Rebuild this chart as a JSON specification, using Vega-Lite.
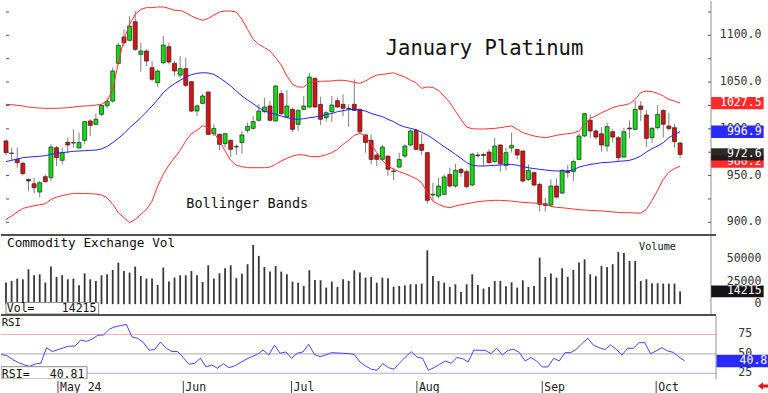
{
"$schema": "https://vega.github.io/schema/vega-lite/v6.json",
"background": "white",
"padding": 0,
"spacing": 2,
"bounds": "flush",
"config": {"view": {"stroke": null}},
"datasets": {"d": [
{"t":0,"o":987.0,"h":989.0,"l":972.0,"c":974.5,"v":24000,"r":49.0,"u":1026.2,"m":964.9,"lo":903.1},
{"t":1,"o":973.6,"h":979.8,"l":966.3,"c":974.0,"v":25900,"r":48.0,"u":1025.8,"m":966.3,"lo":906.7},
{"t":2,"o":967.3,"h":979.8,"l":958.4,"c":963.8,"v":28500,"r":43.0,"u":1025.1,"m":967.7,"lo":911.0},
{"t":3,"o":963.1,"h":964.5,"l":950.6,"c":952.1,"v":27750,"r":39.0,"u":1024.4,"m":969.1,"lo":914.9},
{"t":4,"o":945.9,"h":947.0,"l":933.1,"c":944.2,"v":38900,"r":36.0,"u":1023.3,"m":969.8,"lo":916.3},
{"t":5,"o":941.3,"h":947.8,"l":931.3,"c":937.0,"v":32200,"r":34.0,"u":1022.6,"m":970.2,"lo":917.7},
{"t":6,"o":932.4,"h":944.2,"l":927.0,"c":942.4,"v":33300,"r":37.0,"u":1022.2,"m":970.6,"lo":918.8},
{"t":7,"o":948.8,"h":951.3,"l":942.4,"c":943.5,"v":24000,"r":38.0,"u":1021.9,"m":971.3,"lo":919.9},
{"t":8,"o":947.7,"h":983.4,"l":944.2,"c":980.5,"v":41900,"r":58.0,"u":1021.9,"m":972.7,"lo":924.5},
{"t":9,"o":979.8,"h":981.6,"l":960.2,"c":969.1,"v":30400,"r":53.0,"u":1021.9,"m":973.8,"lo":927.0},
{"t":10,"o":966.3,"h":979.8,"l":962.0,"c":974.5,"v":32200,"r":55.5,"u":1022.2,"m":974.5,"lo":928.5},
{"t":11,"o":985.6,"h":990.5,"l":973.8,"c":982.7,"v":27750,"r":58.0,"u":1022.6,"m":975.2,"lo":929.9},
{"t":12,"o":984.8,"h":999.4,"l":979.8,"c":985.3,"v":28500,"r":60.0,"u":1023.3,"m":975.9,"lo":930.9},
{"t":13,"o":979.5,"h":995.9,"l":978.8,"c":985.3,"v":21000,"r":60.0,"u":1024.0,"m":976.3,"lo":930.9},
{"t":14,"o":987.7,"h":1008.4,"l":983.4,"c":1007.7,"v":34400,"r":68.0,"u":1024.4,"m":976.6,"lo":930.9},
{"t":15,"o":1008.4,"h":1010.2,"l":992.3,"c":1003.7,"v":27750,"r":66.0,"u":1024.7,"m":977.0,"lo":930.6},
{"t":16,"o":1004.8,"h":1016.6,"l":1004.1,"c":1010.2,"v":25900,"r":69.0,"u":1025.4,"m":977.3,"lo":930.2},
{"t":17,"o":1015.5,"h":1026.2,"l":1013.7,"c":1025.1,"v":32200,"r":74.0,"u":1026.2,"m":978.4,"lo":929.2},
{"t":18,"o":1024.7,"h":1033.3,"l":1021.9,"c":1029.4,"v":33300,"r":74.4,"u":1029.7,"m":981.2,"lo":926.3},
{"t":19,"o":1029.7,"h":1065.4,"l":1028.0,"c":1061.8,"v":38200,"r":81.7,"u":1042.2,"m":985.2,"lo":919.2},
{"t":20,"o":1070.0,"h":1092.1,"l":1069.0,"c":1089.3,"v":46350,"r":85.0,"u":1070.7,"m":989.8,"lo":910.3},
{"t":21,"o":1098.2,"h":1106.4,"l":1088.6,"c":1092.1,"v":37050,"r":86.4,"u":1095.7,"m":994.8,"lo":905.0},
{"t":22,"o":1094.6,"h":1120.6,"l":1094.0,"c":1109.9,"v":35200,"r":88.0,"u":1111.7,"m":1001.2,"lo":899.6},
{"t":23,"o":1114.6,"h":1126.0,"l":1083.2,"c":1085.0,"v":41900,"r":71.8,"u":1122.4,"m":1006.4,"lo":903.1},
{"t":24,"o":1079.6,"h":1092.1,"l":1061.1,"c":1083.2,"v":31500,"r":70.0,"u":1127.7,"m":1011.9,"lo":908.5},
{"t":25,"o":1083.2,"h":1085.0,"l":1067.2,"c":1072.5,"v":28500,"r":64.5,"u":1129.6,"m":1018.0,"lo":913.8},
{"t":26,"o":1065.4,"h":1072.5,"l":1051.1,"c":1052.9,"v":28500,"r":54.6,"u":1129.6,"m":1024.4,"lo":922.7},
{"t":27,"o":1049.3,"h":1063.6,"l":1044.7,"c":1061.8,"v":21400,"r":56.0,"u":1130.3,"m":1031.2,"lo":938.8},
{"t":28,"o":1070.7,"h":1099.3,"l":1069.0,"c":1089.6,"v":40800,"r":65.3,"u":1130.3,"m":1038.7,"lo":951.3},
{"t":29,"o":1087.8,"h":1092.1,"l":1069.0,"c":1071.4,"v":25150,"r":57.2,"u":1128.8,"m":1044.0,"lo":961.3},
{"t":30,"o":1070.0,"h":1072.5,"l":1056.5,"c":1061.8,"v":29600,"r":53.0,"u":1126.7,"m":1048.3,"lo":969.1},
{"t":31,"o":1057.5,"h":1077.9,"l":1054.7,"c":1064.3,"v":32200,"r":53.0,"u":1126.7,"m":1051.9,"lo":977.0},
{"t":32,"o":1064.3,"h":1076.1,"l":1044.7,"c":1046.5,"v":32200,"r":45.2,"u":1124.2,"m":1055.4,"lo":987.0},
{"t":33,"o":1050.4,"h":1051.0,"l":1018.0,"c":1019.0,"v":37050,"r":36.6,"u":1120.6,"m":1057.9,"lo":994.8},
{"t":34,"o":1019.0,"h":1026.2,"l":1013.7,"c":1024.4,"v":32200,"r":37.9,"u":1118.1,"m":1059.3,"lo":998.4},
{"t":35,"o":1027.2,"h":1037.6,"l":1026.2,"c":1035.1,"v":24800,"r":44.3,"u":1116.0,"m":1060.0,"lo":1003.4},
{"t":36,"o":1039.4,"h":1039.7,"l":993.3,"c":994.0,"v":43400,"r":33.2,"u":1118.1,"m":1059.7,"lo":1001.2},
{"t":37,"o":994.7,"h":1004.8,"l":992.3,"c":1000.5,"v":28500,"r":35.7,"u":1121.7,"m":1058.2,"lo":995.9},
{"t":38,"o":994.0,"h":995.0,"l":977.0,"c":983.4,"v":34400,"r":31.4,"u":1124.9,"m":1054.7,"lo":987.0},
{"t":39,"o":984.1,"h":995.9,"l":979.8,"c":994.7,"v":40000,"r":37.4,"u":1126.0,"m":1050.4,"lo":976.3},
{"t":40,"o":987.7,"h":988.4,"l":969.8,"c":978.0,"v":43400,"r":32.3,"u":1126.0,"m":1045.8,"lo":966.3},
{"t":41,"o":980.5,"h":983.4,"l":972.0,"c":981.2,"v":29000,"r":34.4,"u":1124.9,"m":1040.4,"lo":960.9},
{"t":42,"o":985.3,"h":997.7,"l":973.4,"c":993.4,"v":34000,"r":38.7,"u":1117.0,"m":1035.1,"lo":959.5},
{"t":43,"o":998.4,"h":1006.6,"l":995.9,"c":1002.6,"v":44500,"r":43.0,"u":1106.4,"m":1030.8,"lo":958.4},
{"t":44,"o":1000.5,"h":1013.7,"l":999.0,"c":1007.7,"v":66000,"r":46.4,"u":1095.7,"m":1026.9,"lo":958.4},
{"t":45,"o":1009.1,"h":1026.2,"l":1007.7,"c":1019.0,"v":53800,"r":49.4,"u":1090.3,"m":1022.6,"lo":958.4},
{"t":46,"o":1018.3,"h":1033.3,"l":1017.0,"c":1023.3,"v":41500,"r":55.0,"u":1086.8,"m":1019.0,"lo":958.4},
{"t":47,"o":1024.4,"h":1029.7,"l":1007.7,"c":1009.1,"v":36300,"r":48.6,"u":1083.2,"m":1017.2,"lo":959.1},
{"t":48,"o":1008.4,"h":1046.5,"l":1007.7,"c":1045.8,"v":42600,"r":61.1,"u":1076.1,"m":1015.5,"lo":962.0},
{"t":49,"o":1037.6,"h":1041.2,"l":1014.7,"c":1016.2,"v":36300,"r":50.8,"u":1068.2,"m":1013.7,"lo":965.6},
{"t":50,"o":1012.6,"h":1041.2,"l":1011.9,"c":1024.4,"v":33300,"r":52.5,"u":1056.5,"m":1011.9,"lo":968.4},
{"t":51,"o":1020.8,"h":1022.6,"l":996.9,"c":999.4,"v":25150,"r":44.3,"u":1047.6,"m":1010.5,"lo":970.9},
{"t":52,"o":1004.8,"h":1020.8,"l":997.7,"c":1019.7,"v":24000,"r":50.8,"u":1044.7,"m":1010.2,"lo":972.3},
{"t":53,"o":1020.8,"h":1035.1,"l":1020.0,"c":1024.4,"v":20300,"r":52.5,"u":1044.7,"m":1010.8,"lo":972.0},
{"t":54,"o":1023.3,"h":1060.0,"l":1022.6,"c":1055.4,"v":37800,"r":62.4,"u":1049.3,"m":1011.9,"lo":970.6},
{"t":55,"o":1054.0,"h":1054.7,"l":1022.6,"c":1023.3,"v":27000,"r":49.4,"u":1050.4,"m":1012.6,"lo":970.2},
{"t":56,"o":1026.2,"h":1034.4,"l":1004.1,"c":1010.2,"v":26600,"r":46.4,"u":1050.8,"m":1013.7,"lo":970.6},
{"t":57,"o":1011.9,"h":1019.0,"l":1007.7,"c":1017.2,"v":18450,"r":48.6,"u":1051.1,"m":1015.1,"lo":972.3},
{"t":58,"o":1018.3,"h":1035.1,"l":1007.7,"c":1025.4,"v":25150,"r":51.6,"u":1051.1,"m":1016.5,"lo":974.5},
{"t":59,"o":1030.1,"h":1033.3,"l":1022.6,"c":1023.3,"v":19200,"r":51.2,"u":1051.9,"m":1018.3,"lo":978.0},
{"t":60,"o":1026.2,"h":1036.9,"l":1013.7,"c":1021.9,"v":27750,"r":50.8,"u":1051.9,"m":1019.4,"lo":983.4},
{"t":61,"o":1022.0,"h":1026.2,"l":1001.9,"c":1021.7,"v":25900,"r":50.3,"u":1051.1,"m":1020.5,"lo":987.7},
{"t":62,"o":1026.2,"h":1052.9,"l":1019.0,"c":1019.7,"v":37800,"r":49.4,"u":1049.7,"m":1020.8,"lo":993.0},
{"t":63,"o":1020.8,"h":1021.9,"l":994.0,"c":996.9,"v":35200,"r":39.6,"u":1048.6,"m":1020.1,"lo":995.2},
{"t":64,"o":993.4,"h":994.7,"l":974.5,"c":985.3,"v":29600,"r":34.4,"u":1051.1,"m":1019.0,"lo":992.3},
{"t":65,"o":987.7,"h":994.0,"l":962.0,"c":967.3,"v":30350,"r":30.2,"u":1054.7,"m":1016.5,"lo":983.4},
{"t":66,"o":972.0,"h":973.4,"l":960.2,"c":967.3,"v":24000,"r":28.9,"u":1057.5,"m":1014.7,"lo":974.5},
{"t":67,"o":967.3,"h":982.7,"l":965.6,"c":980.5,"v":29600,"r":37.4,"u":1058.2,"m":1013.0,"lo":966.3},
{"t":68,"o":970.9,"h":971.0,"l":949.5,"c":956.7,"v":28800,"r":32.3,"u":1059.0,"m":1010.1,"lo":960.2},
{"t":69,"o":954.2,"h":958.4,"l":944.9,"c":954.9,"v":19550,"r":30.2,"u":1060.0,"m":1007.7,"lo":956.7},
{"t":70,"o":959.1,"h":974.5,"l":958.4,"c":967.3,"v":20300,"r":38.7,"u":1057.5,"m":1004.1,"lo":954.2},
{"t":71,"o":970.9,"h":983.4,"l":969.1,"c":981.6,"v":21050,"r":46.0,"u":1055.4,"m":1002.0,"lo":952.1},
{"t":72,"o":982.7,"h":999.4,"l":981.6,"c":997.7,"v":22150,"r":52.9,"u":1051.9,"m":1000.5,"lo":949.5},
{"t":73,"o":998.4,"h":999.4,"l":977.0,"c":978.0,"v":22150,"r":46.0,"u":1049.3,"m":999.1,"lo":946.7},
{"t":74,"o":983.4,"h":994.7,"l":972.0,"c":977.0,"v":22900,"r":44.3,"u":1043.3,"m":996.3,"lo":942.4},
{"t":75,"o":974.5,"h":975.6,"l":920.0,"c":923.5,"v":60100,"r":28.9,"u":1044.7,"m":993.4,"lo":931.7},
{"t":76,"o":929.2,"h":942.4,"l":923.5,"c":929.9,"v":31450,"r":32.3,"u":1044.3,"m":989.5,"lo":922.7},
{"t":77,"o":928.1,"h":947.7,"l":925.6,"c":938.8,"v":25900,"r":36.6,"u":1041.1,"m":985.2,"lo":919.2},
{"t":78,"o":929.9,"h":951.3,"l":928.8,"c":948.5,"v":24000,"r":40.9,"u":1035.1,"m":980.9,"lo":916.7},
{"t":79,"o":951.3,"h":958.4,"l":937.0,"c":938.8,"v":19200,"r":37.9,"u":1028.0,"m":977.0,"lo":915.6},
{"t":80,"o":938.8,"h":962.7,"l":937.0,"c":955.6,"v":22150,"r":45.2,"u":1019.0,"m":972.7,"lo":917.4},
{"t":81,"o":956.7,"h":958.4,"l":948.5,"c":953.1,"v":13600,"r":44.0,"u":1010.1,"m":968.5,"lo":918.8},
{"t":82,"o":954.2,"h":956.7,"l":936.3,"c":938.1,"v":22150,"r":39.6,"u":1001.9,"m":963.8,"lo":919.9},
{"t":83,"o":939.9,"h":974.5,"l":938.8,"c":972.7,"v":33300,"r":55.0,"u":1000.1,"m":961.0,"lo":921.0},
{"t":84,"o":972.0,"h":975.0,"l":969.0,"c":971.3,"v":21400,"r":54.6,"u":999.8,"m":960.2,"lo":922.0},
{"t":85,"o":972.5,"h":974.5,"l":960.2,"c":971.5,"v":17350,"r":54.6,"u":999.8,"m":960.2,"lo":922.7},
{"t":86,"o":975.2,"h":978.0,"l":962.7,"c":963.8,"v":19200,"r":50.3,"u":1000.1,"m":960.6,"lo":923.1},
{"t":87,"o":964.9,"h":990.5,"l":963.8,"c":981.6,"v":25900,"r":57.2,"u":1000.5,"m":960.9,"lo":923.5},
{"t":88,"o":982.7,"h":983.4,"l":954.2,"c":962.7,"v":25900,"r":48.6,"u":1001.2,"m":961.3,"lo":923.5},
{"t":89,"o":960.9,"h":979.8,"l":955.6,"c":974.5,"v":19950,"r":54.6,"u":1002.3,"m":961.7,"lo":923.1},
{"t":90,"o":979.5,"h":995.9,"l":974.5,"c":982.3,"v":24400,"r":55.9,"u":1003.0,"m":962.0,"lo":922.7},
{"t":91,"o":978.0,"h":978.5,"l":967.3,"c":972.0,"v":18450,"r":51.6,"u":999.4,"m":961.0,"lo":922.0},
{"t":92,"o":976.3,"h":976.5,"l":942.4,"c":944.2,"v":26600,"r":40.9,"u":995.9,"m":959.5,"lo":921.3},
{"t":93,"o":945.9,"h":962.0,"l":944.2,"c":955.6,"v":19200,"r":45.2,"u":994.1,"m":958.4,"lo":921.0},
{"t":94,"o":953.1,"h":954.2,"l":938.1,"c":939.9,"v":20300,"r":40.9,"u":992.3,"m":957.4,"lo":920.6},
{"t":95,"o":940.6,"h":942.4,"l":911.4,"c":919.2,"v":51900,"r":33.2,"u":991.2,"m":956.7,"lo":920.2},
{"t":96,"o":919.9,"h":926.3,"l":911.4,"c":918.1,"v":30350,"r":33.2,"u":990.5,"m":956.0,"lo":919.2},
{"t":97,"o":918.5,"h":945.9,"l":917.4,"c":938.8,"v":34100,"r":44.3,"u":991.6,"m":955.2,"lo":917.0},
{"t":98,"o":938.8,"h":947.0,"l":925.6,"c":927.0,"v":29600,"r":40.9,"u":993.0,"m":954.9,"lo":916.0},
{"t":99,"o":931.3,"h":956.7,"l":930.2,"c":955.6,"v":40000,"r":51.6,"u":994.1,"m":954.9,"lo":915.6},
{"t":100,"o":954.9,"h":961.3,"l":947.7,"c":953.1,"v":30350,"r":51.6,"u":994.8,"m":954.9,"lo":914.9},
{"t":101,"o":954.2,"h":967.3,"l":944.2,"c":964.9,"v":38150,"r":55.9,"u":995.5,"m":956.0,"lo":914.2},
{"t":102,"o":967.3,"h":994.7,"l":966.3,"c":992.3,"v":46350,"r":63.6,"u":997.7,"m":959.1,"lo":913.5},
{"t":103,"o":992.3,"h":1017.2,"l":991.2,"c":1016.2,"v":50050,"r":70.1,"u":1004.8,"m":960.6,"lo":913.1},
{"t":104,"o":1009.1,"h":1015.5,"l":990.5,"c":997.7,"v":33300,"r":61.1,"u":1011.2,"m":962.0,"lo":912.8},
{"t":105,"o":997.7,"h":999.4,"l":988.8,"c":991.2,"v":31100,"r":58.0,"u":1013.7,"m":962.7,"lo":912.4},
{"t":106,"o":994.7,"h":1001.9,"l":975.6,"c":982.7,"v":42600,"r":55.5,"u":1017.2,"m":963.8,"lo":912.1},
{"t":107,"o":981.6,"h":1006.6,"l":975.6,"c":1002.3,"v":41500,"r":61.5,"u":1019.7,"m":964.1,"lo":911.7},
{"t":108,"o":996.9,"h":999.4,"l":985.3,"c":991.2,"v":44500,"r":55.9,"u":1022.6,"m":964.5,"lo":911.0},
{"t":109,"o":990.5,"h":992.3,"l":965.6,"c":969.1,"v":58250,"r":48.6,"u":1024.4,"m":965.2,"lo":910.6},
{"t":110,"o":969.8,"h":1001.2,"l":969.1,"c":996.9,"v":57150,"r":57.2,"u":1025.4,"m":965.6,"lo":910.3},
{"t":111,"o":1000.8,"h":1009.1,"l":989.8,"c":999.8,"v":48200,"r":57.2,"u":1026.9,"m":966.3,"lo":910.3},
{"t":112,"o":999.4,"h":1029.7,"l":998.4,"c":1020.8,"v":48200,"r":64.5,"u":1031.5,"m":968.1,"lo":909.9},
{"t":113,"o":1024.4,"h":1029.7,"l":1008.4,"c":1020.8,"v":25900,"r":64.5,"u":1038.7,"m":970.9,"lo":909.9},
{"t":114,"o":1014.8,"h":1019.7,"l":980.5,"c":989.8,"v":27750,"r":50.3,"u":1040.4,"m":975.2,"lo":913.8},
{"t":115,"o":990.5,"h":1001.9,"l":985.3,"c":1000.5,"v":23300,"r":53.8,"u":1039.7,"m":978.8,"lo":923.5},
{"t":116,"o":1001.2,"h":1025.5,"l":999.4,"c":1015.5,"v":23300,"r":58.0,"u":1037.9,"m":981.6,"lo":934.2},
{"t":117,"o":1019.7,"h":1020.8,"l":990.5,"c":1004.8,"v":22900,"r":53.8,"u":1035.1,"m":985.2,"lo":946.0},
{"t":118,"o":1003.0,"h":1017.2,"l":998.4,"c":1000.2,"v":22900,"r":52.0,"u":1031.5,"m":990.5,"lo":953.5},
{"t":119,"o":1001.2,"h":1005.5,"l":980.0,"c":986.2,"v":22900,"r":46.0,"u":1029.7,"m":994.1,"lo":957.5},
{"t":120,"o":984.8,"h":986.2,"l":968.4,"c":972.6,"v":14215,"r":40.81,"u":1027.5,"m":996.9,"lo":960.2}
],
"pticks": [{"v":900},{"v":925},{"v":950},{"v":975},{"v":1000},{"v":1025},{"v":1050},{"v":1075},{"v":1100},{"v":1125}],
"plabels": [{"v":900,"lab":"900.0"},{"v":950,"lab":"950.0"},{"v":1000,"lab":"1000.0"},{"v":1050,"lab":"1050.0"},{"v":1100,"lab":"1100.0"}],
"vlabels": [{"v":0,"lab":"0"},{"v":25000,"lab":"25000"},{"v":50000,"lab":"50000"}],
"rlabels": [{"v":25,"lab":"25"},{"v":50,"lab":"50"},{"v":75,"lab":"75"}],
"months": [{"t":10,"lab":"May 24"},{"t":32,"lab":"Jun"},{"t":51,"lab":"Jul"},{"t":73,"lab":"Aug"},{"t":95,"lab":"Sep"},{"t":115,"lab":"Oct"}]
},
"vconcat": [
{
"width": 715, "height": 233,
"layer": [
{"data": {"name": "d"}, "mark": {"type": "rule", "color": "#808080", "strokeWidth": 1, "clip": true},
 "encoding": {
  "x": {"field": "t", "type": "quantitative", "scale": {"domain": [0, 125.5], "nice": false, "zero": false}, "axis": null},
  "y": {"field": "l", "type": "quantitative", "scale": {"domain": [887.5, 1136.7], "nice": false, "zero": false}, "axis": null},
  "y2": {"field": "h"}}},
{"data": {"name": "d"}, "mark": {"type": "bar", "size": 4, "stroke": "#222", "strokeWidth": 0.7, "clip": true},
 "encoding": {
  "x": {"field": "t", "type": "quantitative", "axis": null},
  "y": {"field": "o", "type": "quantitative", "axis": null},
  "y2": {"field": "c"},
  "fill": {"condition": {"test": "datum.c >= datum.o", "value": "#11dd11"}, "value": "#dd1111"}}},
{"data": {"name": "d"}, "mark": {"type": "line", "color": "#ff3030", "strokeWidth": 1, "clip": true},
 "encoding": {"x": {"field": "t", "type": "quantitative", "axis": null}, "y": {"field": "u", "type": "quantitative", "axis": null}}},
{"data": {"name": "d"}, "mark": {"type": "line", "color": "#2222ff", "strokeWidth": 1, "clip": true},
 "encoding": {"x": {"field": "t", "type": "quantitative", "axis": null}, "y": {"field": "m", "type": "quantitative", "axis": null}}},
{"data": {"name": "d"}, "mark": {"type": "line", "color": "#ff3030", "strokeWidth": 1, "clip": true},
 "encoding": {"x": {"field": "t", "type": "quantitative", "axis": null}, "y": {"field": "lo", "type": "quantitative", "axis": null}}},
{"data": {"values": [{}]}, "mark": {"type": "rule", "color": "#909090", "strokeWidth": 1},
 "encoding": {"x": {"datum": 125.5, "type": "quantitative", "axis": null}}},
{"data": {"values": [{}]}, "mark": {"type": "rule", "color": "#505050", "strokeWidth": 2},
 "encoding": {"y": {"datum": 886.4, "type": "quantitative", "axis": null}}},
{"data": {"name": "pticks"}, "mark": {"type": "tick", "orient": "horizontal", "size": 3, "thickness": 1, "color": "#555", "opacity": 1},
 "encoding": {"x": {"datum": 125.24, "type": "quantitative", "axis": null}, "y": {"field": "v", "type": "quantitative", "axis": null}}},
{"data": {"name": "pticks"}, "mark": {"type": "tick", "orient": "horizontal", "size": 3, "thickness": 1, "color": "#555", "opacity": 1},
 "encoding": {"x": {"datum": 0.27, "type": "quantitative", "axis": null}, "y": {"field": "v", "type": "quantitative", "axis": null}}},
{"data": {"name": "plabels"}, "mark": {"type": "text", "align": "right", "baseline": "middle", "color": "#333", "font": "DejaVu Sans Mono", "fontSize": 11.5},
 "encoding": {"x": {"datum": 134.46, "type": "quantitative", "axis": null}, "y": {"field": "v", "type": "quantitative", "axis": null}, "text": {"field": "lab"}}},
{"data": {"values": [{}]}, "mark": {"type": "text", "text": "January Platinum", "font": "DejaVu Sans Mono", "fontSize": 20.5, "align": "left", "baseline": "alphabetic", "color": "#111"},
 "encoding": {"x": {"datum": 67.6, "type": "quantitative", "axis": null}, "y": {"datum": 1078.9, "type": "quantitative", "axis": null}}},
{"data": {"values": [{}]}, "mark": {"type": "text", "text": "Bollinger Bands", "font": "DejaVu Sans Mono", "fontSize": 13.5, "align": "left", "baseline": "alphabetic", "color": "#111"},
 "encoding": {"x": {"datum": 32.1, "type": "quantitative", "axis": null}, "y": {"datum": 915.6, "type": "quantitative", "axis": null}}},
{"data": {"values": [{"lab": "960.2", "v": 960.2}]},
 "mark": {"type": "point", "shape": "M-1,-0.406L1,-0.406L1,0.064L-1,0.064Z", "size": 2756, "filled": true, "opacity": 1, "strokeWidth": 0, "fill": "#ff2a2a"},
 "encoding": {"x": {"datum": 130.2, "type": "quantitative", "axis": null}, "y": {"field": "v", "type": "quantitative", "axis": null}}},
{"data": {"values": [{"lab": "960.2", "v": 960.2}]},
 "mark": {"type": "text", "align": "right", "baseline": "middle", "dy": -4.5, "color": "white", "font": "DejaVu Sans Mono", "fontSize": 11.5},
 "encoding": {"x": {"datum": 134.5, "type": "quantitative", "axis": null}, "y": {"field": "v", "type": "quantitative", "axis": null}, "text": {"field": "lab"}}},
{"data": {"values": [{"k": "upper", "lab": "1027.5", "v": 1027.5}, {"k": "middle", "lab": "996.9", "v": 996.9}, {"k": "close", "lab": "972.6", "v": 972.6}]},
 "mark": {"type": "point", "shape": "M-1,-0.235L1,-0.235L1,0.235L-1,0.235Z", "size": 2756, "filled": true, "opacity": 1, "strokeWidth": 0},
 "encoding": {"x": {"datum": 130.2, "type": "quantitative", "axis": null}, "y": {"field": "v", "type": "quantitative", "axis": null},
  "fill": {"field": "k", "type": "nominal", "scale": {"domain": ["upper", "middle", "close"], "range": ["#ff2a2a", "#2a2aff", "#141414"]}, "legend": null},
  "fillOpacity": {"condition": {"test": "datum.k == 'close'", "value": 0.9}, "value": 1}}},
{"data": {"values": [{"k": "upper", "lab": "1027.5", "v": 1027.5}, {"k": "middle", "lab": "996.9", "v": 996.9}, {"k": "close", "lab": "972.6", "v": 972.6}]},
 "mark": {"type": "text", "align": "right", "baseline": "middle", "color": "white", "font": "DejaVu Sans Mono", "fontSize": 11.5},
 "encoding": {"x": {"datum": 134.5, "type": "quantitative", "axis": null}, "y": {"field": "v", "type": "quantitative", "axis": null}, "text": {"field": "lab"}}}
]
},
{
"width": 715, "height": 78,
"layer": [
{"data": {"name": "d"}, "mark": {"type": "bar", "size": 1.8, "color": "#383838", "clip": true},
 "encoding": {
  "x": {"field": "t", "type": "quantitative", "scale": {"domain": [0, 125.5], "nice": false, "zero": false}, "axis": null},
  "y": {"field": "v", "type": "quantitative", "scale": {"domain": [-11000, 76000], "nice": false, "zero": false}, "axis": null},
  "y2": {"datum": 0}}},
{"data": {"values": [{}]}, "mark": {"type": "rule", "color": "#909090", "strokeWidth": 1},
 "encoding": {"x": {"datum": 125.5, "type": "quantitative", "axis": null}}},
{"data": {"values": [{}]}, "mark": {"type": "rule", "color": "#505050", "strokeWidth": 2},
 "encoding": {"y": {"datum": -12115, "type": "quantitative", "axis": null}}},
{"data": {"name": "vlabels"}, "mark": {"type": "text", "align": "right", "baseline": "middle", "color": "#333", "font": "DejaVu Sans Mono", "fontSize": 11.5},
 "encoding": {"x": {"datum": 134.46, "type": "quantitative", "axis": null}, "y": {"field": "v", "type": "quantitative", "axis": null}, "text": {"field": "lab"}}},
{"data": {"values": [{}]}, "mark": {"type": "text", "text": "Commodity Exchange Vol", "font": "DejaVu Sans Mono", "fontSize": 12.7, "align": "left", "baseline": "alphabetic", "color": "#111"},
 "encoding": {"x": {"datum": 0.18, "type": "quantitative", "axis": null}, "y": {"datum": 63800, "type": "quantitative", "axis": null}}},
{"data": {"values": [{}]}, "mark": {"type": "rect", "fill": "white", "stroke": "#888", "strokeWidth": 1, "clip": true},
 "encoding": {"x": {"datum": 0, "type": "quantitative", "axis": null}, "x2": {"datum": 16.5}, "y": {"datum": -11000, "type": "quantitative", "axis": null}, "y2": {"datum": 1900}}},
{"data": {"values": [{}]}, "mark": {"type": "text", "text": "Vol=", "font": "DejaVu Sans Mono", "fontSize": 11.5, "align": "left", "baseline": "alphabetic", "color": "#111"},
 "encoding": {"x": {"datum": 0.15, "type": "quantitative", "axis": null}, "y": {"datum": -8700, "type": "quantitative", "axis": null}}},
{"data": {"values": [{}]}, "mark": {"type": "text", "text": "14215", "font": "DejaVu Sans Mono", "fontSize": 11.5, "align": "right", "baseline": "alphabetic", "color": "#111"},
 "encoding": {"x": {"datum": 16.1, "type": "quantitative", "axis": null}, "y": {"datum": -8700, "type": "quantitative", "axis": null}}},
{"data": {"values": [{}]}, "mark": {"type": "text", "text": "Volume", "font": "DejaVu Sans Mono", "fontSize": 10.2, "align": "left", "baseline": "alphabetic", "color": "#111"},
 "encoding": {"x": {"datum": 112.7, "type": "quantitative", "axis": null}, "y": {"datum": 60150, "type": "quantitative", "axis": null}}},
{"data": {"values": [{"lab": "14215", "v": 14215}]},
 "mark": {"type": "point", "shape": "M-1,-0.22L1,-0.22L1,0.22L-1,0.22Z", "size": 2756, "filled": true, "opacity": 1, "strokeWidth": 0, "fill": "#141414"},
 "encoding": {"x": {"datum": 130.2, "type": "quantitative", "axis": null}, "y": {"field": "v", "type": "quantitative", "axis": null}}},
{"data": {"values": [{"lab": "14215", "v": 14215}]},
 "mark": {"type": "text", "align": "right", "baseline": "middle", "color": "white", "font": "DejaVu Sans Mono", "fontSize": 11.5},
 "encoding": {"x": {"datum": 134.5, "type": "quantitative", "axis": null}, "y": {"field": "v", "type": "quantitative", "axis": null}, "text": {"field": "lab"}}}
]
},
{
"width": 715, "height": 63,
"layer": [
{"data": {"values": [{}]}, "mark": {"type": "rule", "color": "#ffaaaa", "strokeWidth": 1},
 "encoding": {"y": {"datum": 75, "type": "quantitative", "scale": {"domain": [17.65, 98.8], "nice": false, "zero": false}, "axis": null}}},
{"data": {"values": [{}]}, "mark": {"type": "rule", "color": "#a8a8a8", "strokeWidth": 1},
 "encoding": {"y": {"datum": 50, "type": "quantitative", "axis": null}}},
{"data": {"values": [{}]}, "mark": {"type": "rule", "color": "#aaaaff", "strokeWidth": 1},
 "encoding": {"y": {"datum": 25, "type": "quantitative", "axis": null}}},
{"data": {"name": "d"}, "mark": {"type": "line", "color": "#4444ff", "strokeWidth": 1, "clip": true},
 "encoding": {
  "x": {"field": "t", "type": "quantitative", "scale": {"domain": [0, 125.5], "nice": false, "zero": false}, "axis": null},
  "y": {"field": "r", "type": "quantitative", "axis": null}}},
{"data": {"values": [{}]}, "mark": {"type": "rule", "color": "#909090", "strokeWidth": 1},
 "encoding": {"x": {"datum": 125.5, "type": "quantitative", "axis": null}}},
{"data": {"name": "rlabels"}, "mark": {"type": "text", "align": "right", "baseline": "middle", "color": "#333", "font": "DejaVu Sans Mono", "fontSize": 11.5},
 "encoding": {"x": {"datum": 131.83, "type": "quantitative", "axis": null}, "y": {"field": "v", "type": "quantitative", "axis": null}, "text": {"field": "lab"}}},
{"data": {"name": "months"}, "mark": {"type": "rule", "color": "#444", "strokeWidth": 1},
 "encoding": {"x": {"field": "t", "type": "quantitative", "axis": null}, "y": {"datum": 15.1, "type": "quantitative", "axis": null}, "y2": {"datum": -1.6}}},
{"data": {"name": "months"}, "mark": {"type": "text", "align": "left", "baseline": "alphabetic", "dx": 2, "color": "#222", "font": "DejaVu Sans Mono", "fontSize": 11.5},
 "encoding": {"x": {"field": "t", "type": "quantitative", "axis": null}, "y": {"datum": 2.5, "type": "quantitative", "axis": null}, "text": {"field": "lab"}}},
{"data": {"values": [{}]}, "mark": {"type": "rect", "fill": "white", "stroke": "#888", "strokeWidth": 1, "clip": true},
 "encoding": {"x": {"datum": 0, "type": "quantitative", "axis": null}, "x2": {"datum": 15.1}, "y": {"datum": 17.65, "type": "quantitative", "axis": null}, "y2": {"datum": 33.5}}},
{"data": {"values": [{}]}, "mark": {"type": "text", "text": "RSI=", "font": "DejaVu Sans Mono", "fontSize": 11.5, "align": "left", "baseline": "alphabetic", "color": "#111"},
 "encoding": {"x": {"datum": 0.15, "type": "quantitative", "axis": null}, "y": {"datum": 19.3, "type": "quantitative", "axis": null}}},
{"data": {"values": [{}]}, "mark": {"type": "text", "text": "40.81", "font": "DejaVu Sans Mono", "fontSize": 11.5, "align": "right", "baseline": "alphabetic", "color": "#111"},
 "encoding": {"x": {"datum": 14.63, "type": "quantitative", "axis": null}, "y": {"datum": 19.3, "type": "quantitative", "axis": null}}},
{"data": {"values": [{}]}, "mark": {"type": "text", "text": "RSI", "font": "DejaVu Sans Mono", "fontSize": 10.7, "align": "left", "baseline": "alphabetic", "color": "#111"},
 "encoding": {"x": {"datum": 0.12, "type": "quantitative", "axis": null}, "y": {"datum": 86.3, "type": "quantitative", "axis": null}}},
{"data": {"values": [{"lab": "40.8", "v": 40.81}]},
 "mark": {"type": "point", "shape": "M-1,-0.24L1,-0.24L1,0.24L-1,0.24Z", "size": 2756, "filled": true, "opacity": 1, "strokeWidth": 0, "fill": "#2a2aff"},
 "encoding": {"x": {"datum": 130.2, "type": "quantitative", "axis": null}, "y": {"field": "v", "type": "quantitative", "axis": null}}},
{"data": {"values": [{"lab": "40.8", "v": 40.81}]},
 "mark": {"type": "text", "align": "right", "baseline": "middle", "color": "white", "font": "DejaVu Sans Mono", "fontSize": 11.5},
 "encoding": {"x": {"datum": 134.5, "type": "quantitative", "axis": null}, "y": {"field": "v", "type": "quantitative", "axis": null}, "text": {"field": "lab"}}},
{"data": {"values": [{}]},
 "mark": {"type": "point", "shape": "M-1,0L0,-0.75L0,-0.3L1,-0.3L1,0.3L0,0.3L0,0.75Z", "size": 100, "filled": true, "opacity": 1, "strokeWidth": 0, "fill": "#ee1111"},
 "encoding": {"x": {"datum": 133.75, "type": "quantitative", "axis": null}, "y": {"datum": 8.6, "type": "quantitative", "axis": null}}}
]
}
]
}
